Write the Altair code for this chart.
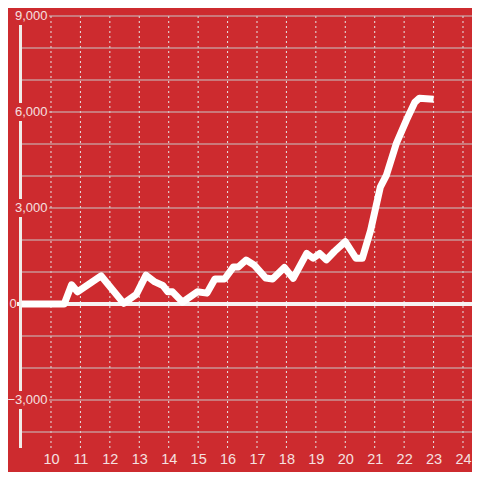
import altair as alt
import pandas as pd

# --- data ---
hours = [9.0, 10.45, 10.7, 10.9, 11.7, 12.47, 12.9, 13.23, 13.53, 13.8, 13.97, 14.13,
         14.47, 14.97, 15.3, 15.57, 15.9, 16.2, 16.37, 16.63, 16.9, 17.3, 17.53, 17.93,
         18.23, 18.69, 18.91, 19.13, 19.36, 19.63, 20.0, 20.36, 20.58, 20.86, 21.19,
         21.4, 21.74, 22.08, 22.36, 22.52, 23.0]
values = [0, 0, 600, 380, 880, 20, 300, 900, 690, 580, 380, 380,
          60, 380, 340, 780, 780, 1160, 1160, 1375, 1220, 810, 780, 1140,
          800, 1580, 1430, 1580, 1380, 1640, 1950, 1430, 1430, 2300, 3650,
          4030, 5030, 5750, 6300, 6430, 6400]

x_ticks = [10, 11, 12, 13, 14, 15, 16, 17, 18, 19, 20, 21, 22, 23, 24]
y_grid = [-4000, -3000, -2000, -1000, 0, 1000, 2000, 3000, 4000, 5000, 6000, 7000, 8000, 9000]
y_labels = [-3000, 3000, 6000, 9000]
zero_label = ["0"]

BG = "#cd2b2f"
LABEL = "#f5e0e0"
FONT = "Liberation Sans"

df = pd.DataFrame({"t": hours, "v": values})
xg = pd.DataFrame({"t": x_ticks})
yg = pd.DataFrame({"v": y_grid})
ym = pd.DataFrame({"v": y_labels})
zl = pd.DataFrame({"label": zero_label})

xs = alt.Scale(domain=[8.947, 24.306], nice=False, zero=False)
ys = alt.Scale(domain=[-4500, 9000], nice=False, zero=False)

x_axis = alt.Axis(values=x_ticks, format="d", grid=False, domain=False, ticks=False,
                  tickSize=0, labelPadding=4, labelFontSize=14.5, labelColor=LABEL,
                  labelFlush=False, labelOverlap=False, labelFont=FONT,
                  zindex=1, title=None)
y_axis = alt.Axis(values=y_grid, labels=False, grid=False, domain=False, ticks=False,
                  tickSize=0, title=None)

vgrid = alt.Chart(xg).mark_rule(color="#e6e6e6", strokeWidth=1, strokeDash=[2, 3]).encode(
    x=alt.X("t:Q", scale=xs, axis=x_axis)
)
hgrid = alt.Chart(yg).mark_rule(color="#c8c8c8", strokeWidth=1).encode(
    y=alt.Y("v:Q", scale=ys, axis=y_axis)
)
zero_line = alt.Chart(df).mark_rule(color="#f7f3f3", strokeWidth=3.5).encode(
    y=alt.datum(0), x=alt.value(-3), x2=alt.value(452)
)
axis_line = alt.Chart(df).mark_rule(color="#f1ece9", strokeWidth=3).encode(
    x=alt.value(0.5), y=alt.datum(-4500), y2=alt.datum(9000)
)
line = alt.Chart(df).mark_line(color="#ffffff", strokeWidth=7, strokeJoin="round").encode(
    x=alt.X("t:Q", scale=xs, axis=x_axis),
    y=alt.Y("v:Q", scale=ys, axis=y_axis),
)
masks = alt.Chart(ym).transform_calculate(
    lo="datum.v - 280", hi="datum.v + 280"
).mark_rect(color=BG).encode(
    y=alt.Y("lo:Q", scale=ys, axis=y_axis), y2="hi:Q",
    x=alt.value(-11), x2=alt.value(29)
)
y_text = alt.Chart(ym).transform_calculate(
    label="format(datum.v, ',d')"
).mark_text(
    align="right", baseline="middle", fontSize=13, font=FONT, color=LABEL
).encode(
    y=alt.Y("v:Q", scale=ys, axis=y_axis), x=alt.value(27.5), text="label:N"
)
zero_text = alt.Chart(zl).mark_text(
    align="center", baseline="middle", fontSize=13, font=FONT, color=LABEL
).encode(
    y=alt.datum(0), x=alt.value(-7), text="label:N"
)

chart = alt.layer(vgrid, hgrid, zero_line, axis_line, line, masks, y_text, zero_text).properties(
    width=452, height=432,
    autosize=alt.AutoSizeParams(type="none"),
    padding={"left": 12, "top": 8, "right": 0, "bottom": 24},
    background=BG,
).configure_view(stroke=None)

chart.save("out.html", embed_options={"renderer": "svg", "actions": False})
